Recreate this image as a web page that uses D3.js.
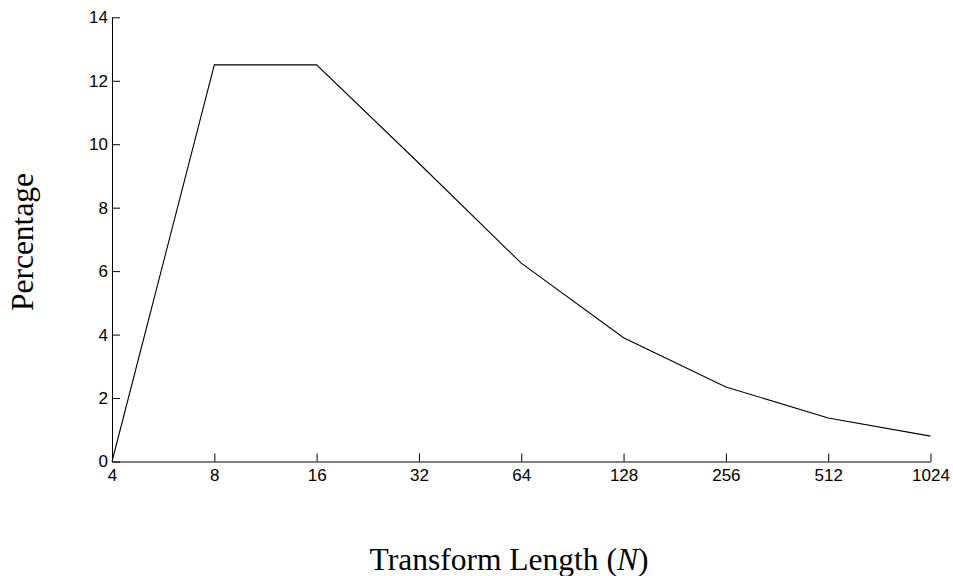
<!DOCTYPE html>
<html>
<head>
<meta charset="utf-8">
<script src="https://cdn.jsdelivr.net/npm/d3@7"></script>
<style>
  html, body { margin: 0; padding: 0; background: #fff; }
  svg { display: block; }
</style>
</head>
<body>
<svg id="chart" width="953" height="576"></svg>
<script>
// Data
const transformLengths = [4, 8, 16, 32, 64, 128, 256, 512, 1024];
const percentages = [0, 12.5, 12.5, 9.4, 6.25, 3.9, 2.35, 1.37, 0.8];
const xTickValues = [4, 8, 16, 32, 64, 128, 256, 512, 1024];
const yTickValues = [0, 2, 4, 6, 8, 10, 12, 14];
const xTitle = "Transform Length (";
const xTitleItalic = "N";
const xTitleEnd = ")";
const yTitle = "Percentage";

const svg = d3.select("#chart");
const plotLeft = 112, plotRight = 930.5, plotTop = 17.3, plotBottom = 461.5;

const x = d3.scaleLog().base(2).domain([4, 1024]).range([plotLeft, plotRight]);
const y = d3.scaleLinear().domain([0, 14]).range([plotBottom, plotTop]);

const tickFont = "'Liberation Sans', Arial, sans-serif";

const xAxis = svg.append("g")
  .attr("transform", `translate(0,${plotBottom})`)
  .call(d3.axisBottom(x).tickValues(xTickValues).tickFormat(d3.format("d"))
    .tickSizeInner(-8).tickSizeOuter(0).tickPadding(7));

const yAxis = svg.append("g")
  .attr("transform", `translate(${plotLeft},0)`)
  .call(d3.axisLeft(y).tickValues(yTickValues).tickFormat(d3.format("d"))
    .tickSizeInner(-8).tickSizeOuter(0).tickPadding(4));

[xAxis, yAxis].forEach(g => {
  g.selectAll("text").attr("font-family", tickFont).attr("font-size", 17).attr("fill", "#000");
  g.selectAll("line").attr("stroke", "#000").attr("stroke-width", 1);
  g.select(".domain").attr("stroke", "#000").attr("stroke-width", 1);
  g.attr("font-size", null).attr("font-family", null);
});

const line = d3.line()
  .x((d, i) => x(transformLengths[i]))
  .y(d => y(d));

svg.append("path")
  .datum(percentages)
  .attr("fill", "none")
  .attr("stroke", "#000")
  .attr("stroke-width", 1.1)
  .attr("d", line);

const serif = "'Liberation Serif', 'Times New Roman', serif";

const xt = svg.append("text")
  .attr("x", 509)
  .attr("y", 570)
  .attr("text-anchor", "middle")
  .attr("font-family", serif)
  .attr("font-size", 31.5)
  .attr("fill", "#000");
xt.append("tspan").text(xTitle);
xt.append("tspan").attr("font-style", "italic").text(xTitleItalic);
xt.append("tspan").text(xTitleEnd);

svg.append("text")
  .attr("transform", `translate(33,242) rotate(-90)`)
  .attr("text-anchor", "middle")
  .attr("font-family", serif)
  .attr("font-size", 31.5)
  .attr("fill", "#000")
  .text(yTitle);
</script>
</body>
</html>
